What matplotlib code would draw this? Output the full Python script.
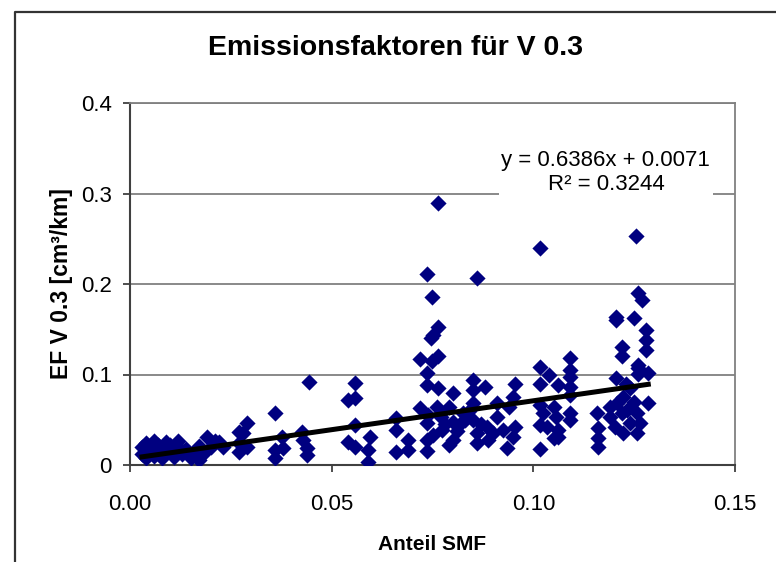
import matplotlib.pyplot as plt
from matplotlib.lines import Line2D
import numpy as np

plt.rcParams['font.family'] = ['Liberation Sans', 'DejaVu Sans']

# Daten: Anteil SMF (x) und EF V 0.3 (y)
anteil_smf = [
    0.003, 0.003, 0.004, 0.004, 0.004, 0.005, 0.005, 0.006, 0.006, 0.006,
    0.007, 0.007, 0.008, 0.008, 0.009, 0.009, 0.010, 0.010, 0.011, 0.011,
    0.012, 0.012, 0.013, 0.014, 0.015, 0.0156, 0.017, 0.017, 0.018, 0.019,
    0.020, 0.021, 0.022, 0.023, 0.027, 0.027, 0.027, 0.028, 0.029, 0.029,
    0.036, 0.036, 0.036, 0.0377, 0.038, 0.0427, 0.043, 0.044, 0.044, 0.0444,
    0.0558, 0.054, 0.0558, 0.0558, 0.054, 0.0558, 0.0595, 0.059, 0.059,
    0.066, 0.066, 0.066, 0.069, 0.069,
    0.0764, 0.0736, 0.086, 0.0748, 0.0764, 0.075, 0.0747, 0.072, 0.0748, 0.0764,
    0.0737, 0.0736, 0.0764, 0.080, 0.085, 0.085, 0.088, 0.0955, 0.095,
    0.072, 0.0736, 0.0736, 0.0736, 0.076, 0.077, 0.0773, 0.079, 0.080, 0.080,
    0.082, 0.0826, 0.085, 0.085, 0.086, 0.086, 0.0885, 0.0888, 0.091, 0.091,
    0.0925, 0.0935, 0.0955, 0.095, 0.094, 0.074, 0.078, 0.081, 0.083, 0.075,
    0.077, 0.079, 0.084, 0.087, 0.090,
    0.1017, 0.126, 0.127, 0.1205, 0.1205, 0.125, 0.128, 0.128, 0.128, 0.122,
    0.122, 0.126, 0.1285, 0.126, 0.1205, 0.1017, 0.1017, 0.104, 0.106, 0.109,
    0.109, 0.109, 0.109, 0.109, 0.1017, 0.1025, 0.105, 0.1055, 0.1017, 0.1035,
    0.106, 0.105, 0.106, 0.1017, 0.109, 0.109, 0.1157, 0.116, 0.116, 0.116,
    0.119, 0.119, 0.1207, 0.1203, 0.1223, 0.122, 0.1223, 0.1233, 0.124, 0.125,
    0.1257, 0.1257, 0.1285, 0.1265, 0.126, 0.1255, 0.123, 0.124,
]
ef_v03 = [
    0.012, 0.020, 0.008, 0.017, 0.024, 0.013, 0.021, 0.010, 0.018, 0.026,
    0.015, 0.022, 0.008, 0.019, 0.013, 0.025, 0.017, 0.022, 0.009, 0.014,
    0.020, 0.026, 0.012, 0.018, 0.008, 0.013, 0.005, 0.021, 0.012, 0.031,
    0.020, 0.026, 0.025, 0.020, 0.014, 0.036, 0.024, 0.035, 0.046, 0.020,
    0.057, 0.017, 0.008, 0.031, 0.019, 0.036, 0.028, 0.019, 0.011, 0.092,
    0.0905, 0.072, 0.074, 0.044, 0.025, 0.020, 0.031, 0.017, 0.003,
    0.052, 0.039, 0.014, 0.028, 0.017,
    0.290, 0.211, 0.207, 0.186, 0.153, 0.144, 0.140, 0.117, 0.115, 0.120,
    0.102, 0.088, 0.085, 0.080, 0.094, 0.083, 0.086, 0.090, 0.075,
    0.063, 0.046, 0.028, 0.015, 0.064, 0.053, 0.039, 0.064, 0.047, 0.028,
    0.046, 0.057, 0.068, 0.050, 0.035, 0.024, 0.042, 0.028, 0.053, 0.068,
    0.039, 0.019, 0.042, 0.031, 0.064, 0.055, 0.045, 0.038, 0.050, 0.033,
    0.058, 0.022, 0.060, 0.045, 0.035,
    0.240, 0.190, 0.182, 0.164, 0.160, 0.162, 0.149, 0.138, 0.127, 0.130,
    0.120, 0.107, 0.102, 0.101, 0.096, 0.108, 0.090, 0.099, 0.088, 0.118,
    0.105, 0.097, 0.086, 0.077, 0.066, 0.057, 0.064, 0.053, 0.044, 0.042,
    0.039, 0.030, 0.031, 0.018, 0.057, 0.050, 0.058, 0.041, 0.030, 0.020,
    0.064, 0.053, 0.068, 0.042, 0.075, 0.057, 0.035, 0.061, 0.046, 0.070,
    0.057, 0.035, 0.068, 0.046, 0.110, 0.253, 0.090, 0.085,
]

# Trendlinie laut Excel
slope = 0.6386
intercept = 0.0071

x_ticks = [0.00, 0.05, 0.10, 0.15]
x_ticklabels = ['0.00', '0.05', '0.10', '0.15']
y_ticks = [0, 0.1, 0.2, 0.3, 0.4]
y_ticklabels = ['0', '0.1', '0.2', '0.3', '0.4']

fig = plt.figure(figsize=(7.76, 5.62), dpi=100)
ax = fig.add_axes([130 / 776, 1 - 465 / 562, 605 / 776, 362 / 562])

# Rahmen des Diagrammbereichs (nur links und oben sichtbar)
fx = 15 / 776
fy = 1 - 12 / 562
fig.add_artist(Line2D([fx, fx, 1.1], [-0.1, fy, fy], transform=fig.transFigure,
                      color='#333333', linewidth=1.6))

ax.set_xlim(0, 0.15)
ax.set_ylim(0, 0.4)
ax.set_yticks(y_ticks)
ax.set_yticklabels(y_ticklabels)
ax.set_xticks(x_ticks)
ax.set_xticklabels(x_ticklabels)
ax.yaxis.grid(True, color='#808080', linewidth=1.3)
ax.set_axisbelow(True)

ax.scatter(anteil_smf, ef_v03, marker='D', s=68, color='#000080',
           linewidths=0, zorder=3)

xs = np.array([min(anteil_smf), max(anteil_smf)])
ax.plot(xs, slope * xs + intercept, color='black', linewidth=3.6, zorder=4)

ax.text(0.118, 0.323, 'y = 0.6386x + 0.0071\nR² = 0.3244', ha='center',
        va='center', fontsize=16, linespacing=1.15, zorder=5,
        bbox=dict(facecolor='white', edgecolor='none', pad=2))

for s in ['top', 'right']:
    ax.spines[s].set_color('#808080')
    ax.spines[s].set_linewidth(1.3)
for s in ['left', 'bottom']:
    ax.spines[s].set_color('#404040')
    ax.spines[s].set_linewidth(1.5)

ax.tick_params(axis='both', labelsize=16, color='#404040', width=1.3,
               length=5, direction='out')
ax.tick_params(axis='x', pad=16)
ax.tick_params(axis='y', pad=8)

ax.set_xlabel('Anteil SMF', fontsize=15, fontweight='bold', labelpad=14)
ax.set_ylabel('EF V 0.3 [cm³/km]', fontsize=16.5, fontweight='bold', labelpad=6)

fig.text(395 / 776, 1 - 48 / 562, 'Emissionsfaktoren für V 0.3',
         ha='center', va='center', fontsize=20.5, fontweight='bold')

fig.savefig('out.png', dpi=100)
